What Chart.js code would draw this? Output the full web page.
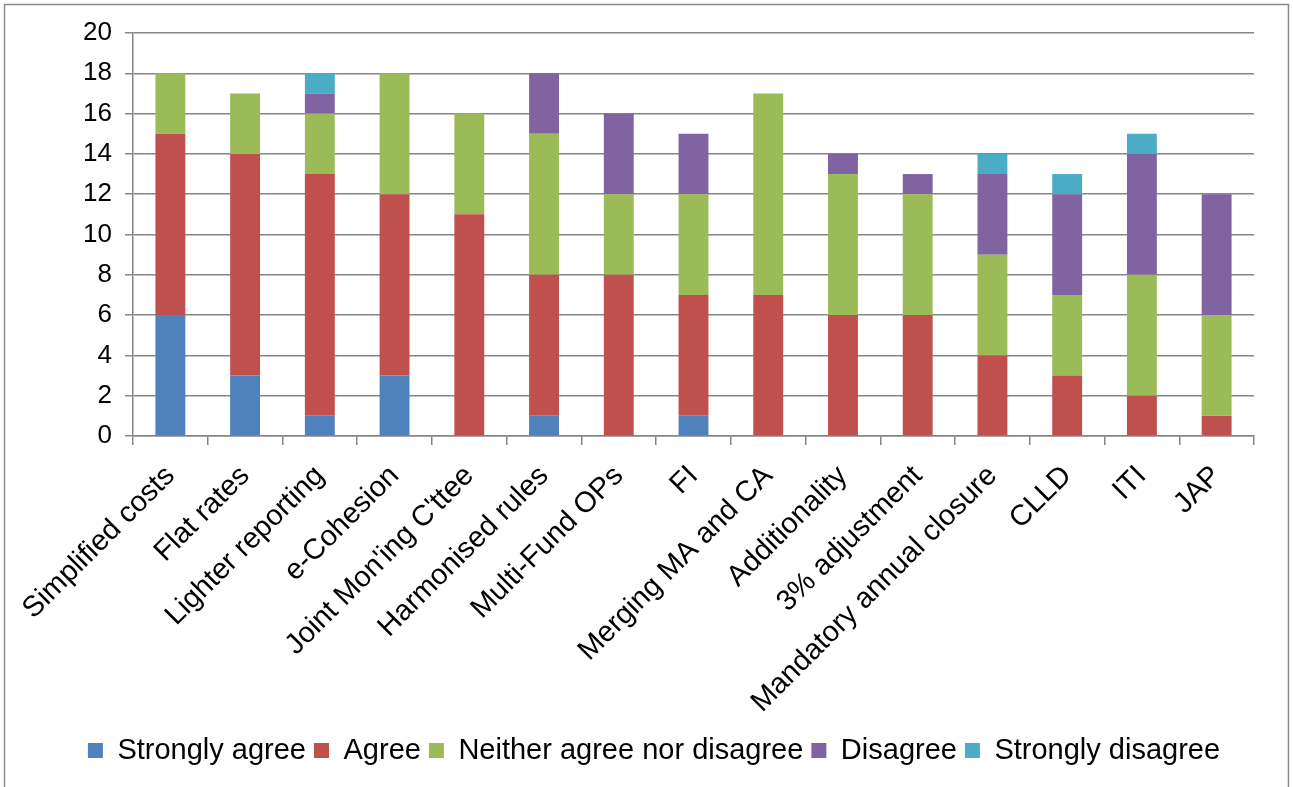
<!DOCTYPE html>
<html>
<head>
<meta charset="utf-8">
<script src="https://cdn.jsdelivr.net/npm/chart.js@4/dist/chart.umd.min.js"></script>
<style>
  html, body { margin: 0; padding: 0; background: #fff; }
  #wrap { width: 1293px; height: 787px; }
</style>
</head>
<body>
<div id="wrap"><canvas id="c" width="1293" height="787"></canvas></div>
<script>
const categories = ["Simplified costs", "Flat rates", "Lighter reporting", "e-Cohesion", "Joint Mon'ing C'ttee", "Harmonised rules", "Multi-Fund OPs", "FI", "Merging MA and CA", "Additionality", "3% adjustment", "Mandatory annual closure", "CLLD", "ITI", "JAP"];
const stronglyAgree    = [6, 3, 1, 3, 0, 1, 0, 1, 0, 0, 0, 0, 0, 0, 0];
const agree            = [9, 11, 12, 9, 11, 7, 8, 6, 7, 6, 6, 4, 3, 2, 1];
const neither          = [3, 3, 3, 6, 5, 7, 4, 5, 10, 7, 6, 5, 4, 6, 5];
const disagree         = [0, 0, 1, 0, 0, 3, 4, 3, 0, 1, 1, 4, 5, 6, 6];
const stronglyDisagree = [0, 0, 1, 0, 0, 0, 0, 0, 0, 0, 0, 1, 1, 1, 0];
const seriesNames = ["Strongly agree", "Agree", "Neither agree nor disagree", "Disagree", "Strongly disagree"];
const yTicks = [0, 2, 4, 6, 8, 10, 12, 14, 16, 18, 20];

const colors = ["#4F81BD", "#C0504D", "#9BBB59", "#8064A2", "#4BACC6"];
const seriesData = [stronglyAgree, agree, neither, disagree, stronglyDisagree];
const FONT = "'Liberation Sans', Arial, sans-serif";
const GRID = "#868686";

const framePlugin = {
  id: 'frame',
  beforeDraw(chart) {
    const ctx = chart.ctx;
    ctx.save();
    ctx.fillStyle = '#fff';
    ctx.fillRect(0, 0, chart.width, chart.height);
    ctx.restore();
  },
  afterDraw(chart) {
    const ctx = chart.ctx;
    ctx.save();
    ctx.strokeStyle = '#8c8c8c';
    ctx.lineWidth = 1.5;
    ctx.beginPath();
    ctx.moveTo(4.5, 787);
    ctx.lineTo(4.5, 4.5);
    ctx.lineTo(1288.5, 4.5);
    ctx.lineTo(1288.5, 787);
    ctx.stroke();
    ctx.restore();
  }
};

new Chart(document.getElementById('c'), {
  type: 'bar',
  data: {
    labels: categories,
    datasets: seriesData.map((d, i) => ({
      label: seriesNames[i],
      data: d,
      backgroundColor: colors[i],
      borderWidth: 0,
      barPercentage: 0.4,
      categoryPercentage: 1.0
    }))
  },
  options: {
    responsive: false,
    animation: false,
    layout: { padding: { left: 54, right: 39, top: 33, bottom: 12 } },
    plugins: {
      legend: {
        position: 'bottom',
        labels: {
          boxWidth: 15,
          boxHeight: 15,
          padding: 8,
          color: '#000',
          font: { family: FONT, size: 29 }
        }
      },
      tooltip: { enabled: false },
      title: { display: false }
    },
    scales: {
      x: {
        stacked: true,
        afterFit(scale) { scale.height = 292; },
        grid: {
          display: true,
          drawOnChartArea: false,
          drawTicks: true,
          tickLength: 9,
          color: GRID,
          lineWidth: 1.5,
          offset: true
        },
        border: { display: true, color: GRID, width: 1.5 },
        ticks: {
          autoSkip: false,
          minRotation: 45,
          maxRotation: 45,
          padding: 14,
          color: '#000',
          font: { family: FONT, size: 29 }
        }
      },
      y: {
        stacked: true,
        min: 0,
        max: 20,
        afterFit(scale) { scale.width = 79; },
        afterBuildTicks(scale) { scale.ticks = yTicks.map(v => ({ value: v })); },
        grid: {
          color: GRID,
          lineWidth: 1.5,
          drawTicks: true,
          tickLength: 8
        },
        border: { display: true, color: GRID, width: 1.5 },
        ticks: {
          padding: 13,
          color: '#000',
          font: { family: FONT, size: 26 }
        }
      }
    }
  },
  plugins: [framePlugin]
});
</script>
</body>
</html>
